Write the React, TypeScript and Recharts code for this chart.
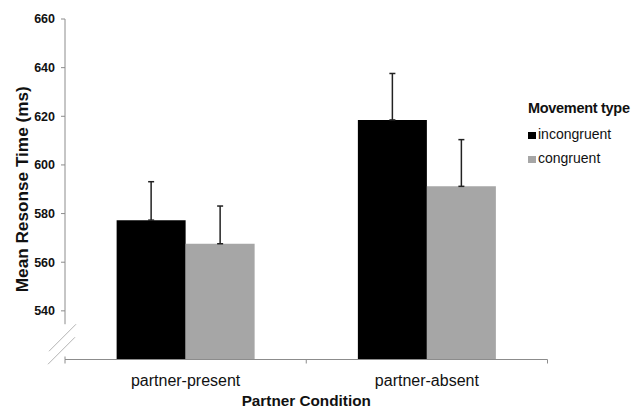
import React from "react";
import { Bar, BarChart, Customized, ErrorBar, XAxis, YAxis, usePlotArea } from "recharts";

const FONT = '"Liberation Sans", Arial, sans-serif';

const conditions = ["partner-present", "partner-absent"];
const incongruentMeans = [577.3, 618.5];
const congruentMeans = [567.6, 591.2];
const incongruentErr = [15.8, 19.1];
const congruentErr = [15.5, 19.2];
const yTicks = [540, 560, 580, 600, 620, 640, 660];

const Y_MIN = 520;
const Y_MAX = 660;
const BREAK_AT = 534.5;

const data = conditions.map((condition, i) => ({
  condition,
  incongruent: incongruentMeans[i],
  congruent: congruentMeans[i],
  incongruentErr: [0, incongruentErr[i]],
  congruentErr: [0, congruentErr[i]],
}));

const legendItems = [
  { label: "incongruent", color: "#000000" },
  { label: "congruent", color: "#a6a6a6" },
];

// y axis with a break near the bottom, plus x axis ticks between categories
function AxisDecor() {
  const plot = usePlotArea();
  if (!plot) return null;
  const { x, y, width, height } = plot;
  const yOf = (v: number) => y + ((Y_MAX - v) / (Y_MAX - Y_MIN)) * height;
  const bottom = y + height;
  const yb = yOf(BREAK_AT);
  const n = conditions.length;
  return (
    <g fill="none">
      <line x1={x} y1={y} x2={x} y2={yb} stroke="#8c8c8c" />
      <line x1={x + 11} y1={yb} x2={x - 16} y2={yb + 27} stroke="#b4b4b4" />
      <line x1={x + 10} y1={yb + 13} x2={x - 17} y2={yb + 40} stroke="#b4b4b4" />
      <line x1={x} y1={bottom - 3} x2={x} y2={bottom} stroke="#8c8c8c" />
      {Array.from({ length: n + 1 }, (_, i) => (
        <line
          key={i}
          x1={x + (width * i) / n}
          y1={bottom}
          x2={x + (width * i) / n}
          y2={bottom + 4}
          stroke="#8c8c8c"
        />
      ))}
    </g>
  );
}

function LegendBox() {
  return (
    <div style={{ position: "absolute", left: 528, top: 99.5, fontFamily: FONT, color: "#111" }}>
      <div style={{ fontWeight: 700, fontSize: 14.5, lineHeight: "16px", letterSpacing: -0.3, marginBottom: 10, whiteSpace: "nowrap" }}>
        Movement type
      </div>
      {legendItems.map((it) => (
        <div key={it.label} style={{ fontSize: 14, lineHeight: "16px", marginBottom: 8.4, whiteSpace: "nowrap" }}>
          <span style={{ display: "inline-block", width: 8, height: 7, background: it.color, marginRight: 2 }} />
          {it.label}
        </div>
      ))}
    </div>
  );
}

export default function App() {
  return (
    <div style={{ position: "absolute", left: 0, top: 0, width: 633, height: 407, background: "#fff", fontFamily: FONT }}>
      <BarChart
        width={633}
        height={407}
        data={data}
        margin={{ top: 19, right: 85.5, bottom: 0, left: 0 }}
        barGap={0}
        barCategoryGap="21.4%"
      >
        <XAxis
          dataKey="condition"
          height={47.5}
          axisLine={{ stroke: "#8c8c8c" }}
          tickLine={false}
          tickSize={0}
          tickMargin={15}
          tick={{ fontSize: 16, fill: "#111", fontFamily: FONT }}
          label={{
            value: "Partner Condition",
            position: "insideBottom",
            offset: 1.5,
            style: { fontSize: 15.3, fontWeight: 700, fill: "#111", fontFamily: FONT },
          }}
        />
        <YAxis
          width={65}
          domain={[Y_MIN, Y_MAX]}
          ticks={yTicks}
          allowDataOverflow
          axisLine={false}
          tickLine={{ stroke: "#8c8c8c" }}
          tickSize={4}
          tickMargin={6}
          tick={{ fontSize: 12.5, fontWeight: 700, fill: "#111", fontFamily: FONT }}
          label={{
            value: "Mean Resonse Time (ms)",
            angle: -90,
            position: "insideLeft",
            offset: 21.5,
            style: { textAnchor: "middle", fontSize: 17.2, fontWeight: 700, fill: "#111", fontFamily: FONT },
          }}
        />
        <Bar dataKey="incongruent" fill="#000000" isAnimationActive={false}>
          <ErrorBar dataKey="incongruentErr" direction="y" width={3} stroke="#222" strokeWidth={1.5} isAnimationActive={false} />
        </Bar>
        <Bar dataKey="congruent" fill="#a6a6a6" isAnimationActive={false}>
          <ErrorBar dataKey="congruentErr" direction="y" width={3} stroke="#222" strokeWidth={1.5} isAnimationActive={false} />
        </Bar>
        <Customized component={AxisDecor} />
      </BarChart>
      <LegendBox />
    </div>
  );
}
